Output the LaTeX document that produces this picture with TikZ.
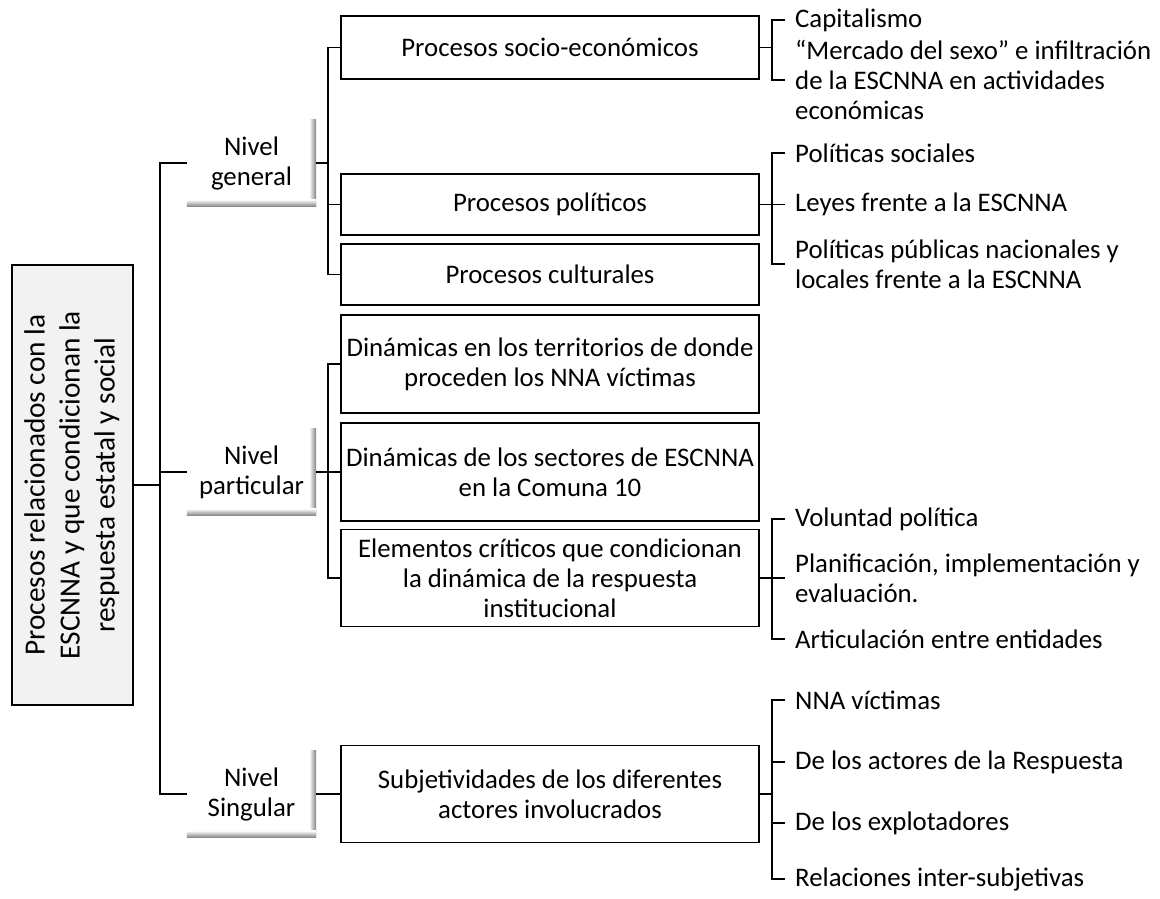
\documentclass[tikz,border=0pt]{standalone}
\usepackage{fontspec}
\setmainfont{Carlito}
\newcommand\mybodyfont{\fontsize{26.8}{30}\selectfont}
\newcommand\myrootfont{\fontsize{29.3}{35}\selectfont}
\begin{document}
\begin{tikzpicture}[x=1pt,y=-1pt,
  conn/.style={line width=1.5pt},
  pbox/.style={draw, line width=1.6pt, fill=white, minimum width=418pt, inner sep=0pt, align=center, font=\mybodyfont},
  lvl/.style={fill=white, minimum width=129pt, minimum height=87pt, inner sep=0pt, align=center, font=\mybodyfont},
  item/.style={anchor=west, align=left, inner sep=0pt, font=\mybodyfont}]
\useasboundingbox (0,0) rectangle (1160,898);

% root
\node[draw, line width=1.6pt, fill=black!5, minimum width=121pt, minimum height=440pt, inner sep=0pt] (root) at (72.5,485)
  {\rotatebox{90}{\myrootfont\begin{tabular}{@{}c@{}}Procesos relacionados con la\\ESCNNA y que condicionan la\\respuesta estatal y social\end{tabular}}};

% levels
\node[lvl] (gen) at (251.5,163) {Nivel\\general};
\node[lvl] (par) at (251.5,472) {Nivel\\particular};
\node[lvl] (sin) at (251.5,794) {Nivel\\Singular};
\foreach \n in {gen,par,sin}{
  \shade[left color=white, right color=black!50] ([xshift=-7pt]\n.north east) rectangle (\n.south east);
  \shade[top color=white, bottom color=black!50] ([yshift=7pt]\n.south west) rectangle (\n.south east);
}

% second level boxes
\node[pbox, minimum height=63pt] (soc) at (550,47.5) {Procesos socio-económicos};
\node[pbox, minimum height=61pt] (pol) at (550,204.5) {Procesos políticos};
\node[pbox, minimum height=61pt] (cul) at (550,274.5) {Procesos culturales};
\node[pbox, minimum height=98pt] (ter) at (550,364) {Dinámicas en los territorios de donde\\proceden los NNA víctimas};
\node[pbox, minimum height=98pt] (sec) at (550,472) {Dinámicas de los sectores de ESCNNA\\en la Comuna 10};
\node[pbox, minimum height=97pt] (ele) at (550,578) {Elementos críticos que condicionan\\la dinámica de la respuesta\\institucional};
\node[pbox, minimum height=97pt] (sub) at (550,794) {Subjetividades de los diferentes\\actores involucrados};

% right items
\node[item] (c1) at (795,20) {Capitalismo};
\node[item] (c2) at (795,80) {“Mercado del sexo” e infiltración\\de la ESCNNA en actividades\\económicas};
\node[item] (p1) at (795,153) {Políticas sociales};
\node[item] (p2) at (795,204.5) {Leyes frente a la ESCNNA};
\node[item] (p3) at (795,264) {Políticas públicas nacionales y\\locales frente a la ESCNNA};
\node[item] (e1) at (795,519) {Voluntad política};
\node[item] (e2) at (795,578) {Planificación, implementación y\\evaluación.};
\node[item] (e3) at (795,639) {Articulación entre entidades};
\node[item] (s1) at (795,700) {NNA víctimas};
\node[item] (s2) at (795,762) {De los actores de la Respuesta};
\node[item] (s3) at (795,823) {De los explotadores};
\node[item] (s4) at (795,879) {Relaciones inter-subjetivas};

% connectors: root to levels
\coordinate (j0) at (160,485);
\coordinate (sp) at (160,0);
\draw[conn] (root.east) -- (j0);
\draw[conn] (gen.west) -- (gen.west -| sp) -- (sin.west -| sp) -- (sin.west);
\draw[conn] (par.west) -- (par.west -| sp);

% levels to second level
\coordinate (b2) at (328,0);
\draw[conn] (gen.east) -- (gen.east -| b2);
\draw[conn] (soc.west) -- (soc.west -| b2) -- (cul.west -| b2) -- (cul.west);
\draw[conn] (pol.west) -- (pol.west -| b2);
\draw[conn] (par.east) -- (sec.west);
\draw[conn] (ter.west) -- (ter.west -| b2) -- (ele.west -| b2) -- (ele.west);
\draw[conn] (sin.east) -- (sub.west);

% right brackets
\coordinate (b3) at (772,0);
\draw[conn] (soc.east) -- (soc.east -| b3);
\draw[conn] ([xshift=-10pt]c1.west) -- (c1.west -| b3) -- (c2.west -| b3) -- ([xshift=-10pt]c2.west);

\draw[conn] (pol.east) -- ([xshift=-10pt]p2.west);
\draw[conn] ([xshift=-10pt]p1.west) -- (p1.west -| b3) -- (p3.west -| b3) -- ([xshift=-10pt]p3.west);

\draw[conn] (ele.east) -- ([xshift=-10pt]e2.west);
\draw[conn] ([xshift=-10pt]e1.west) -- (e1.west -| b3) -- (e3.west -| b3) -- ([xshift=-10pt]e3.west);

\draw[conn] (sub.east) -- (sub.east -| b3);
\draw[conn] ([xshift=-10pt]s1.west) -- (s1.west -| b3) -- (s4.west -| b3) -- ([xshift=-10pt]s4.west);
\draw[conn] ([xshift=-10pt]s2.west) -- (s2.west -| b3);
\draw[conn] ([xshift=-10pt]s3.west) -- (s3.west -| b3);
\end{tikzpicture}
\end{document}
